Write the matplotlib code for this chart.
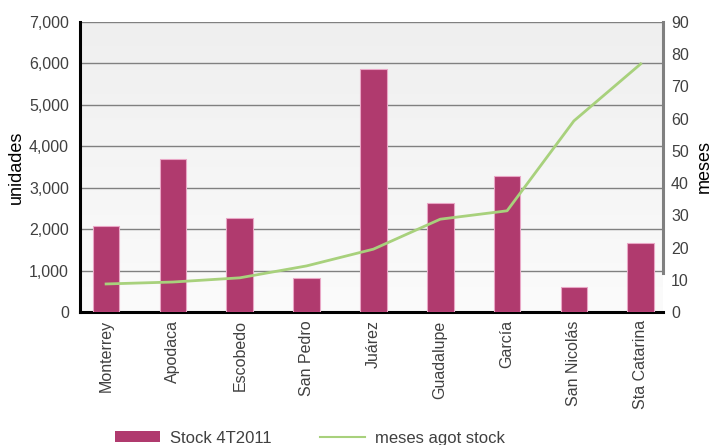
import matplotlib
matplotlib.use("Agg")
import matplotlib.pyplot as plt
import numpy as np
from matplotlib.colors import LinearSegmentedColormap
from matplotlib.patches import Patch
from matplotlib.lines import Line2D

municipios = ["Monterrey", "Apodaca", "Escobedo", "San Pedro", "Juárez",
              "Guadalupe", "García", "San Nicolás", "Sta Catarina"]
stock = [2080, 3690, 2270, 820, 5870, 2630, 3285, 600, 1665]
meses = [8.7, 9.3, 10.6, 14.3, 19.5, 28.8, 31.4, 59.3, 77.0]

left_ticks = [0, 1000, 2000, 3000, 4000, 5000, 6000, 7000]
right_ticks = [0, 10, 20, 30, 40, 50, 60, 70, 80, 90]

BAR = "#b03a6e"
LINE = "#a8d17c"
TEXT = "#404040"

plt.rcParams["font.family"] = ["Liberation Sans Narrow", "Liberation Sans", "DejaVu Sans"]
plt.rcParams["font.size"] = 11.5

fig = plt.figure(figsize=(7.23, 4.45), dpi=100)
ax = fig.add_axes([0.1107, 0.2989, 0.806, 0.6517])
ax2 = ax.twinx()

# light gray gradient behind the bars
grad = LinearSegmentedColormap.from_list("bg", ["#fbfbfb", "#efefef"])
ax.imshow(np.linspace(0, 1, 256).reshape(-1, 1), origin="lower", cmap=grad,
          extent=[0, 1, 0, 1], transform=ax.transAxes, aspect="auto", zorder=0)

x = np.arange(len(municipios))
ax.bar(x, stock, width=0.4, color=BAR, edgecolor="#e9a7c6", linewidth=0.8, zorder=3)
ax2.plot(x, meses, color=LINE, lw=2, zorder=4)

ax.set_xlim(-0.39, 8.33)
ax.set_ylim(0, 7000)
ax2.set_ylim(0, 90)

ax.set_yticks(left_ticks)
ax.set_yticklabels([f"{v:,}" for v in left_ticks])
ax2.set_yticks(right_ticks)
ax.set_xticks(x)
ax.set_xticklabels(municipios, rotation=90)

ax.yaxis.grid(True, color="#808080", lw=1, zorder=1)
ax.set_axisbelow(True)

for a in (ax, ax2):
    a.tick_params(length=0, colors=TEXT, labelsize=11.5)
ax.tick_params(axis="y", pad=8)
ax.tick_params(axis="x", pad=6)
ax2.tick_params(axis="y", pad=6)

ax.spines["top"].set_visible(False)
ax2.spines["top"].set_visible(False)
ax.spines["right"].set_visible(False)
ax2.spines["left"].set_visible(False)
ax2.spines["bottom"].set_visible(False)
ax.spines["left"].set_linewidth(2.2)
ax.spines["left"].set_color("black")
ax.spines["bottom"].set_linewidth(2.2)
ax.spines["bottom"].set_color("black")
ax2.spines["right"].set_linewidth(2.2)
ax2.spines["right"].set_color("#808080")
ax2.spines["right"].set_bounds(12, 90)

ax.set_ylabel("unidades", color="black", fontsize=13, labelpad=3)
ax2.set_ylabel("meses", color="black", fontsize=13, labelpad=5)

handles = [Patch(facecolor=BAR, edgecolor="none"),
           Line2D([0], [0], color=LINE, lw=1.5)]
fig.legend(handles, ["Stock 4T2011", "meses agot stock"], loc="lower left",
           bbox_to_anchor=(0.138, -0.035), ncol=2, frameon=False,
           handlelength=2.7, handleheight=0.6, columnspacing=2.9,
           handletextpad=0.6, labelcolor=TEXT, fontsize=12)

fig.savefig("out.png", dpi=100)
